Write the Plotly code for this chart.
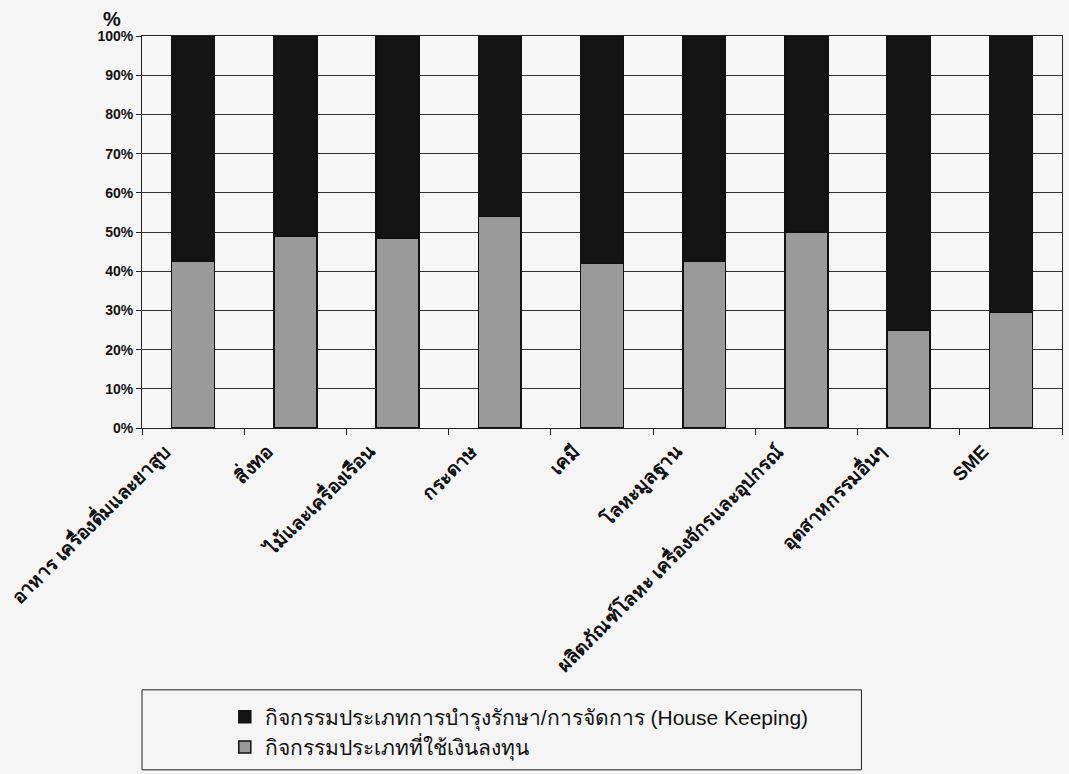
import plotly.graph_objects as go

categories = [
    "อาหาร เครื่องดื่มและยาสูบ",
    "สิ่งทอ",
    "ไม้และเครื่องเรือน",
    "กระดาษ",
    "เคมี",
    "โลหะมูลฐาน",
    "ผลิตภัณฑ์โลหะ เครื่องจักรและอุปกรณ์",
    "อุตสาหกรรมอื่นๆ",
    "SME",
]
investment = [42.5, 49, 48.5, 54, 42, 42.5, 50, 25, 29.5]
housekeeping = [57.5, 51, 51.5, 46, 58, 57.5, 50, 75, 70.5]

name_hk = "กิจกรรมประเภทการบำรุงรักษา/การจัดการ (House Keeping)"
name_inv = "กิจกรรมประเภทที่ใช้เงินลงทุน"
y_ticks = [0, 10, 20, 30, 40, 50, 60, 70, 80, 90, 100]

font_family = "Liberation Sans, Arial, Noto Sans, sans-serif"

fig = go.Figure()
fig.add_trace(go.Bar(x=categories, y=investment, name=name_inv,
                     marker=dict(color="#9a9a9a", line=dict(color="#111111", width=1.5))))
fig.add_trace(go.Bar(x=categories, y=housekeeping, name=name_hk,
                     marker=dict(color="#141414", line=dict(color="#111111", width=1.5))))

fig.update_layout(
    width=1069, height=774,
    barmode="stack", bargap=0.58,
    paper_bgcolor="#f5f5f5", plot_bgcolor="#f7f7f7",
    margin=dict(l=140, r=6, t=36, b=346),
    font=dict(family=font_family, color="#111111"),
    showlegend=True,
    legend=dict(traceorder="reversed", x=0.09, y=-0.685, xanchor="left", yanchor="top",
                bgcolor="rgba(0,0,0,0)", borderwidth=0,
                font=dict(size=21, color="#111111"), itemwidth=30, tracegroupgap=0),
    shapes=[dict(type="rect", xref="paper", yref="paper", x0=0, x1=0.782, y0=-0.668, y1=-0.872,
                 line=dict(color="#222222", width=1), fillcolor="rgba(0,0,0,0)")],
    annotations=[dict(text="<b>%</b>", xref="paper", yref="paper", x=-0.045, y=1.01,
                      xanchor="left", yanchor="bottom", showarrow=False, font=dict(size=20))],
)
fig.update_yaxes(range=[0, 100], tickvals=y_ticks, ticktext=[f"<b>{v}%</b>" for v in y_ticks],
                 showgrid=True, gridcolor="#333333", gridwidth=1,
                 showline=True, linecolor="#222222", linewidth=1, mirror=True,
                 ticks="outside", ticklen=5, tickcolor="#222222",
                 tickfont=dict(size=14), zeroline=False)
fig.update_xaxes(tickangle=-45, ticks="outside", tickson="boundaries", ticklen=6, tickcolor="#222222",
                 showline=True, linecolor="#222222", linewidth=1, mirror=True,
                 tickvals=categories, ticktext=[f"<b>{c}</b>" for c in categories],
                 ticklabelshift=-28, ticklabelstandoff=4,
                 tickfont=dict(size=19))

fig.write_html("out.html")
